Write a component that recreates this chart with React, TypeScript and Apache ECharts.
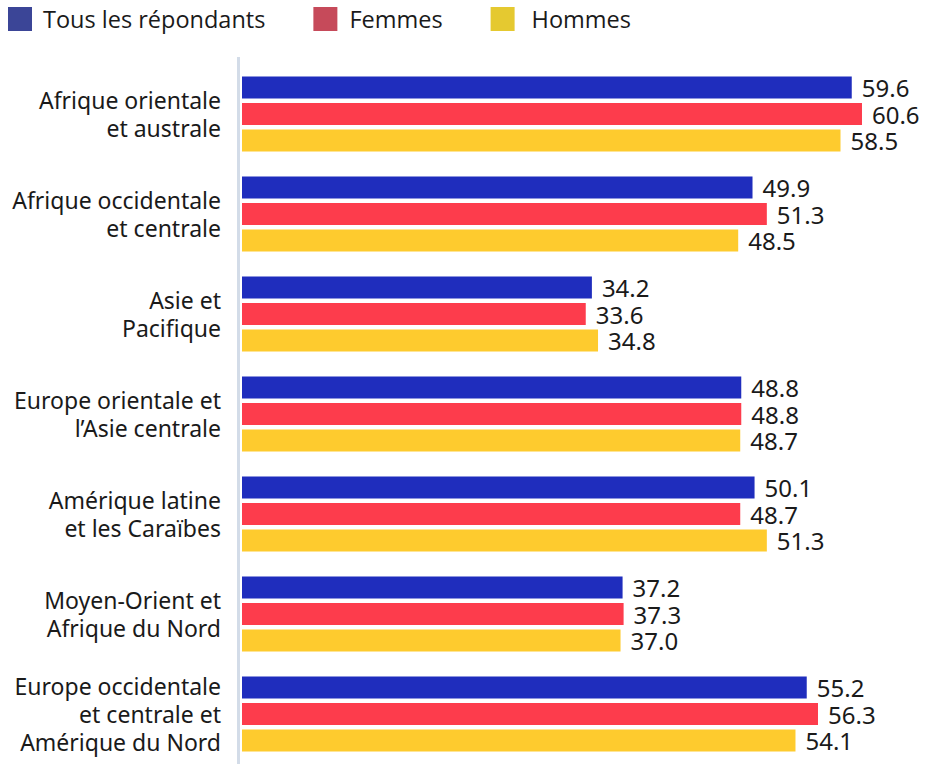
import React, { useEffect, useRef } from "react";
import * as echarts from "echarts";

const categories = [
  "Afrique orientale\net australe",
  "Afrique occidentale\net centrale",
  "Asie et\nPacifique",
  "Europe orientale et\nl’Asie centrale",
  "Amérique latine\net les Caraïbes",
  "Moyen-Orient et\nAfrique du Nord",
  "Europe occidentale\net centrale et\nAmérique du Nord",
];
const seriesNames = ["Tous les répondants", "Femmes", "Hommes"];
const tous = [59.6, 49.9, 34.2, 48.8, 50.1, 37.2, 55.2];
const femmes = [60.6, 51.3, 33.6, 48.8, 48.7, 37.3, 56.3];
const hommes = [58.5, 48.5, 34.8, 48.7, 51.3, 37.0, 54.1];

const barColors = ["#1f2dbd", "#fd3c4c", "#fecb2e"];
const legendColors = ["#3b4597", "#c64a5a", "#e5c930"];
const legendTextGaps = [6, 7, 12];

export default function App() {
  const ref = useRef<HTMLDivElement>(null);
  useEffect(() => {
    if (!ref.current) return;
    const chart = echarts.init(ref.current, undefined, { renderer: "svg" });
    const values = [tous, femmes, hommes];
    chart.setOption({
      animation: false,
      backgroundColor: "#ffffff",
      legend: {
        left: 8,
        top: 7,
        padding: 0,
        itemWidth: 24,
        itemHeight: 24,
        itemGap: 48,
        icon: "rect",
        textStyle: {
          fontFamily: "Open Sans",
          fontSize: 23.5,
          color: "#1a1a1a",
        },
        data: seriesNames.map((n, i) => ({
          name: n,
          itemStyle: { color: legendColors[i] },
          textStyle: {
            fontFamily: "Open Sans",
            fontSize: 23.5,
            color: "#1a1a1a",
            padding: [4, 0, 0, legendTextGaps[i]],
          },
        })),
      },
      grid: { left: 242, top: 64, bottom: 0, right: 18, containLabel: false },
      xAxis: {
        type: "value",
        min: 0,
        max: 65,
        show: false,
      },
      yAxis: {
        type: "category",
        inverse: true,
        data: categories,
        axisLine: { show: false },
        axisTick: { show: false },
        axisLabel: {
          fontFamily: "Noto Sans",
          fontSize: 23,
          color: "#1a1a1a",
          lineHeight: 28,
          align: "right",
          margin: 21,
        },
      },
      graphic: [
        {
          type: "line",
          shape: { x1: 238.5, y1: 57, x2: 238.5, y2: 764 },
          style: { stroke: "#d3dce8", lineWidth: 3 },
        },
      ],
      series: seriesNames.map((n, i) => ({
        name: n,
        type: "bar",
        data: values[i],
        barCategoryGap: "25%",
        barGap: "20%",
        itemStyle: { color: barColors[i] },
        label: {
          show: true,
          position: "right",
          distance: 10,
          formatter: (p: any) => Number(p.value).toFixed(1),
          fontFamily: "Noto Sans",
          fontSize: 24,
          lineHeight: 24,
          color: "#1a1a1a",
        },
      })),
    });
    return () => chart.dispose();
  }, []);
  return (
    <div
      ref={ref}
      style={{ position: "absolute", left: 0, top: 0, width: 925, height: 764 }}
    />
  );
}
